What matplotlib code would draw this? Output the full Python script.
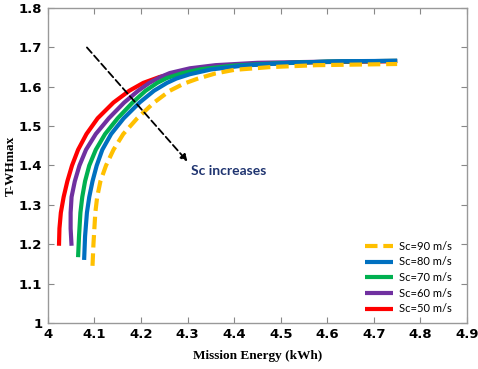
import matplotlib

matplotlib.use("Agg")
import matplotlib.pyplot as plt

# Mission energy (kWh) vs T-WHmax, one curve per cruise speed Sc
labels = ["Sc=90 m/s", "Sc=80 m/s", "Sc=70 m/s", "Sc=60 m/s", "Sc=50 m/s"]
colors = ["#FFC000", "#0070C0", "#00B050", "#7030A0", "#FF0000"]

energy_90 = [4.096, 4.098, 4.102, 4.106, 4.113, 4.125, 4.141, 4.162, 4.192, 4.228, 4.262,
             4.292, 4.320, 4.360, 4.400, 4.476, 4.577, 4.750]
twh_90 = [1.145, 1.200, 1.280, 1.320, 1.360, 1.400, 1.440, 1.480, 1.520, 1.560, 1.590,
          1.608, 1.620, 1.634, 1.643, 1.650, 1.655, 1.658]

energy_80 = [4.078, 4.080, 4.084, 4.089, 4.096, 4.105, 4.117, 4.136, 4.163, 4.197, 4.228,
             4.256, 4.276, 4.305, 4.350, 4.420, 4.520, 4.630, 4.750]
twh_80 = [1.160, 1.220, 1.280, 1.320, 1.360, 1.400, 1.440, 1.480, 1.520, 1.560, 1.590,
          1.610, 1.621, 1.632, 1.644, 1.654, 1.661, 1.665, 1.666]

energy_70 = [4.065, 4.067, 4.070, 4.074, 4.080, 4.089, 4.103, 4.123, 4.150, 4.182, 4.210,
             4.235, 4.255, 4.290, 4.330, 4.400, 4.500, 4.600, 4.750]
twh_70 = [1.167, 1.220, 1.280, 1.320, 1.360, 1.400, 1.440, 1.480, 1.520, 1.560, 1.590,
          1.610, 1.622, 1.635, 1.645, 1.654, 1.660, 1.664, 1.666]

energy_60 = [4.051, 4.049, 4.049, 4.051, 4.058, 4.068, 4.082, 4.103, 4.131, 4.164, 4.194,
             4.218, 4.240, 4.262, 4.305, 4.360, 4.450, 4.600, 4.750]
twh_60 = [1.196, 1.240, 1.280, 1.320, 1.360, 1.400, 1.440, 1.480, 1.520, 1.560, 1.590,
          1.610, 1.624, 1.635, 1.647, 1.655, 1.661, 1.664, 1.666]

energy_50 = [4.024, 4.025, 4.028, 4.034, 4.042, 4.052, 4.065, 4.083, 4.107, 4.141, 4.175,
             4.205, 4.240, 4.280, 4.330, 4.400, 4.500, 4.600, 4.750]
twh_50 = [1.196, 1.240, 1.280, 1.320, 1.360, 1.400, 1.440, 1.480, 1.520, 1.560, 1.590,
          1.610, 1.625, 1.636, 1.646, 1.654, 1.660, 1.663, 1.665]

x_ticks = [4.0, 4.1, 4.2, 4.3, 4.4, 4.5, 4.6, 4.7, 4.8, 4.9]
x_tick_labels = ["4", "4.1", "4.2", "4.3", "4.4", "4.5", "4.6", "4.7", "4.8", "4.9"]
y_ticks = [1.0, 1.1, 1.2, 1.3, 1.4, 1.5, 1.6, 1.7, 1.8]
y_tick_labels = ["1", "1.1", "1.2", "1.3", "1.4", "1.5", "1.6", "1.7", "1.8"]

arrow_start = (4.084, 1.70)
arrow_end = (4.300, 1.410)
note_xy = (4.307, 1.385)


def main() -> None:
    fig = plt.figure(figsize=(4.78, 3.69), dpi=100)
    ax = fig.add_axes([0.100, 0.125, 0.877, 0.853])

    series = [
        (energy_90, twh_90, "--"),
        (energy_80, twh_80, "-"),
        (energy_70, twh_70, "-"),
        (energy_60, twh_60, "-"),
        (energy_50, twh_50, "-"),
    ]
    handles = []
    # red first, yellow dashes last so they sit on top
    for (xs, ys, style), color, label in reversed(list(zip(series, colors, labels))):
        kwargs = dict(color=color, linewidth=3.0, label=label, solid_capstyle="butt",
                      solid_joinstyle="round")
        if style == "--":
            kwargs.update(linestyle=(0, (3, 1.4)), dash_capstyle="butt")
        (line,) = ax.plot(xs, ys, **kwargs)
        handles.append(line)
    handles = handles[::-1]

    ax.annotate(
        "",
        xy=arrow_end,
        xytext=arrow_start,
        arrowprops=dict(arrowstyle="-|>", linestyle=(0, (4, 2)), color="black", lw=1.3,
                        mutation_scale=10, shrinkA=0, shrinkB=0),
    )
    ax.text(note_xy[0], note_xy[1], "Sc increases", color="#1F3470", fontsize=10,
            family="Lato", fontweight="bold", ha="left", va="center")

    ax.set_xlim(4.0, 4.9)
    ax.set_ylim(1.0, 1.8)
    ax.set_xticks(x_ticks, x_tick_labels)
    ax.set_yticks(y_ticks, y_tick_labels)
    ax.tick_params(direction="in", top=True, right=True, length=4, color="#888888",
                   labelsize=9.5, pad=4)
    for lbl in ax.get_xticklabels() + ax.get_yticklabels():
        lbl.set_fontweight("bold")
    for spine in ax.spines.values():
        spine.set_color("#999999")
        spine.set_linewidth(1.0)

    ax.set_xlabel("Mission Energy (kWh)", family="Liberation Serif", fontweight="bold",
                  fontsize=9.5, labelpad=6)
    ax.set_ylabel("T-WHmax", family="Liberation Serif", fontweight="bold", fontsize=9.5)
    ax.yaxis.set_label_coords(-0.074, 0.5)

    ax.legend(handles=handles, loc="lower right", bbox_to_anchor=(0.987, -0.005), frameon=False,
              prop={"family": "Lato", "size": 8}, handlelength=2.5, labelspacing=0.42,
              handletextpad=0.5)

    fig.savefig("out.png", dpi=100)
    plt.close(fig)


if __name__ == "__main__":
    main()
